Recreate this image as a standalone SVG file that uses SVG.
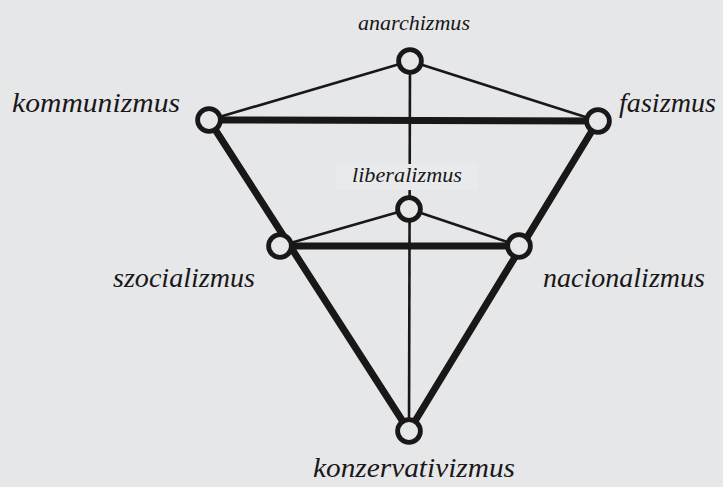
<svg xmlns="http://www.w3.org/2000/svg" width="723" height="487" viewBox="0 0 723 487">
<style>
.thin{stroke:#1a1718;stroke-width:2.6;fill:none}
.thick{stroke:#1a1718;stroke-width:7;fill:none;stroke-linecap:round}
.node{fill:#e6e7e9;stroke:#1a1718;stroke-width:4.8}
text{font-family:'Liberation Serif','Times New Roman',serif;font-style:italic;fill:#1a1718}
.big{font-size:28px}
.small{font-size:22px}
</style>
<rect width="723" height="487" fill="#e6e7e9"/>
<g id="connectors">
<line class="thin" x1="410" y1="61" x2="409" y2="431"/>
<line class="thin" x1="410" y1="61" x2="209" y2="120"/>
<line class="thin" x1="410" y1="61" x2="598" y2="121"/>
<line class="thin" x1="409" y1="209" x2="280" y2="246"/>
<line class="thin" x1="409" y1="209" x2="519" y2="246"/>
<line class="thick" x1="209" y1="120" x2="598" y2="121"/>
<line class="thick" x1="280" y1="246" x2="519" y2="246"/>
<line class="thick" x1="209" y1="120" x2="409" y2="431"/>
<line class="thick" x1="598" y1="121" x2="409" y2="431"/>
</g>
<g id="anarchizmus">
<circle class="node" cx="410" cy="61" r="11.4"/>
<text class="small" x="358" y="30" textLength="112" lengthAdjust="spacingAndGlyphs">anarchizmus</text>
</g>
<g id="kommunizmus">
<circle class="node" cx="209" cy="120" r="11.4"/>
<text class="big" x="12" y="112" textLength="168" lengthAdjust="spacingAndGlyphs">kommunizmus</text>
</g>
<g id="fasizmus">
<circle class="node" cx="598" cy="121" r="11.4"/>
<text class="big" x="619" y="112" textLength="97" lengthAdjust="spacingAndGlyphs">fasizmus</text>
</g>
<g id="liberalizmus">
<rect x="336" y="164" width="142" height="26" fill="#e9eaeb"/>
<circle class="node" cx="409" cy="209" r="11.4"/>
<text class="small" x="352" y="182" textLength="110" lengthAdjust="spacingAndGlyphs">liberalizmus</text>
</g>
<g id="szocializmus">
<circle class="node" cx="280" cy="246" r="11.4"/>
<text class="big" x="113" y="287" textLength="142" lengthAdjust="spacingAndGlyphs">szocializmus</text>
</g>
<g id="nacionalizmus">
<circle class="node" cx="519" cy="246" r="11.4"/>
<text class="big" x="543" y="287" textLength="162" lengthAdjust="spacingAndGlyphs">nacionalizmus</text>
</g>
<g id="konzervativizmus">
<circle class="node" cx="409" cy="431" r="11.4"/>
<text class="big" x="313" y="477" textLength="202" lengthAdjust="spacingAndGlyphs">konzervativizmus</text>
</g>
</svg>
